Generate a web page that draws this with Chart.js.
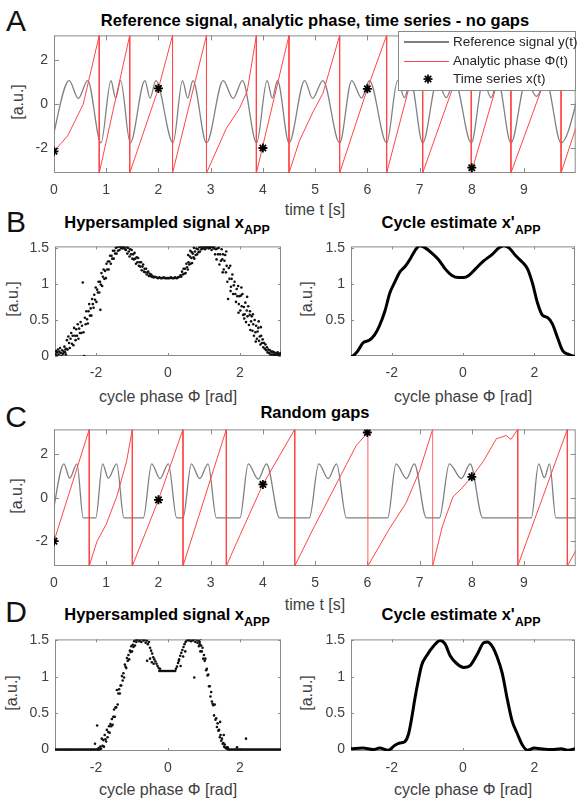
<!DOCTYPE html>
<html>
<head>
<meta charset="utf-8">
<script src="https://cdn.jsdelivr.net/npm/chart.js@4.4.1/dist/chart.umd.min.js"></script>
<style>
    body { margin: 0; width: 577px; height: 802px; background: #fff; position: relative; overflow: hidden;
           font-family: 'Liberation Sans', Arial, sans-serif; color: #262626; }
    canvas { position: absolute; }
    .txt { position: absolute; white-space: nowrap; line-height: 1; transform: translate(-50%, -50%); }
    .letter { font-size: 30px; color: #111; }
    .title { font-size: 16.5px; font-weight: bold; color: #000; }
    .title sub { font-size: 12.5px; line-height: 0; vertical-align: -6px; }
    .xlab { font-size: 16px; color: #404040; }
    .ylab { font-size: 16px; color: #404040; transform: translate(-50%, -50%) rotate(-90deg); }
    #legend { position: absolute; left: 398px; top: 31px; width: 178px; height: 60px; box-sizing: border-box;
              border: 1px solid #8a8a8a; background: #fff; font-size: 13.5px; color: #262626; }
    #legend .row { position: absolute; left: 0; height: 14px; width: 100%; }
    #legend .sample { position: absolute; left: 5px; width: 45px; top: 7px; }
    #legend .label { position: absolute; left: 54px; top: 0; line-height: 14px; white-space: nowrap; }
</style>
</head>
<body>

<div class="txt letter" style="left:16px;top:21px">A</div>
<div class="txt letter" style="left:16px;top:222px">B</div>
<div class="txt letter" style="left:16px;top:417px">C</div>
<div class="txt letter" style="left:16px;top:612px">D</div>

<div class="txt title" style="left:315px;top:20px">Reference signal, analytic phase, time series - no gaps</div>
<div class="txt title" style="left:167px;top:222px">Hypersampled signal x<sub>APP</sub></div>
<div class="txt title" style="left:461px;top:222px">Cycle estimate x'<sub>APP</sub></div>
<div class="txt title" style="left:315px;top:412px">Random gaps</div>
<div class="txt title" style="left:167px;top:614px">Hypersampled signal x<sub>APP</sub></div>
<div class="txt title" style="left:461px;top:614px">Cycle estimate x'<sub>APP</sub></div>

<div class="txt xlab" style="left:315px;top:210px">time t [s]</div>
<div class="txt xlab" style="left:168px;top:397px">cycle phase Φ [rad]</div>
<div class="txt xlab" style="left:463px;top:397px">cycle phase Φ [rad]</div>
<div class="txt xlab" style="left:315px;top:605px">time t [s]</div>
<div class="txt xlab" style="left:168px;top:790px">cycle phase Φ [rad]</div>
<div class="txt xlab" style="left:463px;top:790px">cycle phase Φ [rad]</div>

<div class="txt ylab" style="left:18px;top:102px">[a.u.]</div>
<div class="txt ylab" style="left:13px;top:299px">[a.u.]</div>
<div class="txt ylab" style="left:307px;top:299px">[a.u.]</div>
<div class="txt ylab" style="left:17px;top:496px">[a.u.]</div>
<div class="txt ylab" style="left:12px;top:693px">[a.u.]</div>
<div class="txt ylab" style="left:307px;top:693px">[a.u.]</div>

<script>
// ---- Panel A: no gaps ----
// reference signal y(t): minima, peaks and dips of each cycle
const refT = [-0.05, 0.29, 0.465, 0.645, 0.90, 1.09, 1.18, 1.275, 1.46, 1.74, 1.84, 1.95, 2.28,
    2.46, 2.56, 2.66, 2.92, 3.24, 3.43, 3.61, 3.88, 4.08, 4.18, 4.28, 4.50, 4.80, 4.95, 5.15, 5.47,
    5.70, 5.89, 6.04, 6.37, 6.58, 6.71, 6.83, 7.06, 7.34, 7.51, 7.67, 7.99, 8.22, 8.37, 8.50, 8.75,
    9.04, 9.24, 9.42, 9.71, 10.12];
const refY = [-1.77, 1.08, 0.27, 1.08, -1.77, 1.08, 0.28, 1.08, -1.77, 1.08, 0.28, 1.08, -1.77,
    1.08, 0.28, 1.08, -1.77, 1.08, 0.27, 1.08, -1.77, 1.08, 0.28, 1.08, -1.77, 1.08, 0.27, 1.08, -1.77,
    1.08, 0.28, 1.08, -1.77, 1.08, 0.30, 1.08, -1.77, 1.08, 0.30, 1.08, -1.77, 1.08, 0.30, 1.08, -1.77,
    1.08, 0.36, 1.08, -1.77, 1.08];
// analytic phase Phi(t), wraps drawn as vertical segments
const phaseT = [0, 0.26, 0.56, 0.866, 0.866, 1.45, 1.45, 2.0, 2.27, 2.27, 2.92, 2.92, 3.30, 3.55, 3.70,
    3.875, 3.875, 4.50, 4.50, 4.70, 4.96, 5.15, 5.47, 5.47, 6.0, 6.37, 6.37, 7.06, 7.06, 7.99, 7.99,
    8.75, 8.75, 9.71, 9.71, 9.99];
const phaseY = [-2.15, -1.45, 0.0, 3.1416, -3.1416, 3.1416, -3.1416, 0.72, 3.1416, -3.1416, 3.1416, -3.1416,
    -1.1, -0.2, 0.6, 3.1416, -3.1416, 3.1416, -3.1416, -1.67, -0.35, 0.5, 3.1416, -3.1416, 0.70, 3.1416,
    -3.1416, 3.1416, -3.1416, 3.1416, -3.1416, 3.1416, -3.1416, 3.1416, -3.1416, -1.1];
// time series x(t)
const sampleT = [0, 2, 4, 6, 8];
const sampleA = [-2.15, 0.72, -2.0, 0.70, -2.9];

// ---- Panel C: random gaps ----
const gapT = [-0.04, 0.19, 0.30, 0.44, 0.56, 0.80, 0.93, 1.04, 1.20, 1.34, 1.71, 1.87, 2.03, 2.19, 2.35,
    2.47, 2.63, 2.79, 2.95, 3.11, 3.56, 3.72, 3.91, 4.07, 4.32, 4.89, 5.07, 5.25, 5.41, 5.60,
    6.39, 6.55, 6.75, 6.90, 7.13, 7.38, 7.57, 7.80, 7.97, 8.21, 9.14, 9.28, 9.39, 9.49, 9.61, 9.99];
const gapY = [-0.93, 1.56, 0.90, 1.56, -0.93, -0.93, 1.56, 0.90, 1.56, -0.93, -0.93, 1.56, 0.88, 1.56, -0.93,
    -0.93, 1.56, 0.88, 1.56, -0.93, -0.93, 1.56, 0.85, 1.56, -0.93, -0.93, 1.56, 0.88, 1.56, -0.93,
    -0.93, 1.56, 0.88, 1.56, -0.93, -0.93, 1.56, 0.88, 1.56, -0.93, -0.93, 1.56, 0.92, 1.56, -0.93, -0.93];
const gapPhaseT = [0, 0.675, 0.675, 0.82, 1.0, 1.20, 1.39, 1.50, 1.50, 2.0, 2.47, 2.47, 3.30, 3.30, 3.56,
    4.0, 4.61, 4.61, 4.96, 5.28, 5.60, 5.79, 6.01, 6.01, 6.42, 6.74, 7.0, 7.25, 7.25, 7.44, 7.64,
    7.83, 8.0, 8.22, 8.47, 8.66, 8.75, 8.88, 8.88, 9.83, 9.83, 9.99];
const gapPhaseY = [-2.0, 3.1416, -3.1416, -2.03, -1.22, 0.04, 1.67, 3.1416, -3.1416, -0.1, 3.1416, -3.1416,
    3.1416, -3.1416, -1.73, 0.61, 3.1416, -3.1416, -1.44, 0.04, 1.53, 2.41, 3.0, -3.1416, -1.44, -0.25,
    1.23, 3.1416, -3.1416, -1.29, 0.04, 0.49, 0.96, 1.67, 2.71, 2.86, 2.68, 3.1416, -3.1416, 3.1416,
    -3.1416, -2.45];
const fadedWraps = [6.01, 7.25];
const gapSampleA = [-2.0, -0.1, 0.61, 3.0, 0.96];

// ---- Panel B: hypersampled points [phase, value] and cycle estimate ----
const hypB = [
    [-3.13,0.03],[-3.11,0.07],[-3.10,0.01],[-3.08,0.05],[-3.06,0.09],[-3.04,0.02],[-3.02,0.06],[-3.00,0.11],
    [-2.98,0.04],[-2.96,0.00],[-2.94,0.08],[-2.92,0.03],[-2.90,0.06],[-2.88,0.13],[-2.86,0.05],[-2.84,0.02],
    [-2.85,0.09],[-2.83,0.10],[-2.81,0.22],[-2.79,0.09],[-2.77,0.27],[-2.75,0.18],[-2.73,0.11],[-2.71,0.24],
    [-2.69,0.32],[-2.67,0.17],[-2.65,0.28],[-2.63,0.15],[-2.61,0.39],[-2.59,0.28],[-2.57,0.22],[-2.55,0.37],
    [-2.53,0.28],[-2.51,0.44],[-2.49,0.24],[-2.47,0.38],[-2.45,0.32],[-2.43,0.47],[-2.41,0.32],[-2.39,0.42],
    [-2.37,1.02],[-2.35,0.33],[-2.33,0.0],[-2.31,0.53],[-2.29,0.44],[-2.27,0.62],[-2.25,0.51],[-2.23,0.45],
    [-2.21,0.62],[-2.19,0.72],[-2.17,0.56],[-2.15,0.66],[-2.13,0.56],[-2.11,0.79],[-2.09,0.72],[-2.07,0.67],
    [-2.05,0.85],[-2.03,0.78],[-2.01,0.95],[-1.99,0.75],[-1.97,0.92],[-1.95,0.88],[-1.93,1.03],[-1.91,0.88],
    [-1.89,1.03],[-1.88,0.64],[-1.87,0.99],[-1.85,1.15],[-1.83,0.97],[-1.81,1.10],[-1.79,1.20],[-1.77,1.07],
    [-1.75,1.18],[-1.73,1.08],[-1.71,1.28],[-1.69,1.20],[-1.67,1.31],[-1.65,1.20],[-1.63,1.31],[-1.61,1.39],
    [-1.59,1.28],[-1.57,1.39],[-1.55,1.35],[-1.53,1.46],[-1.51,1.35],[-1.49,1.46],[-1.47,1.42],[-1.45,1.50],
    [-1.43,1.42],[-1.41,1.51],[-1.39,1.46],[-1.37,1.52],[-1.35,1.47],[-1.33,1.52],[-1.31,1.50],[-1.29,1.52],
    [-1.27,1.49],[-1.25,1.52],[-1.23,1.50],[-1.21,1.52],[-1.19,1.48],
    [-1.17,1.47],[-1.15,1.51],[-1.13,1.42],[-1.11,1.50],[-1.09,1.45],[-1.07,1.38],[-1.05,1.48],[-1.03,1.41],
    [-1.01,1.47],[-0.99,1.35],[-0.97,1.41],[-0.95,1.34],[-0.93,1.43],[-0.91,1.35],[-0.89,1.28],[-0.87,1.37],
    [-0.85,1.30],[-0.83,1.36],[-0.81,1.25],[-0.79,1.30],[-0.77,1.24],[-0.75,1.30],[-0.73,1.19],[-0.71,1.24],
    [-0.69,1.27],[-0.67,1.17],[-0.65,1.21],[-0.63,1.16],[-0.61,1.21],[-0.59,1.13],[-0.57,1.16],[-0.55,1.17],
    [-0.53,1.11],[-0.51,1.14],[-0.49,1.11],[-0.47,1.13],[-0.45,1.10],[-0.43,1.11],
    [-0.40,1.09],[-0.36,1.10],[-0.32,1.09],[-0.28,1.08],[-0.24,1.09],[-0.20,1.08],[-0.16,1.08],[-0.12,1.09],
    [-0.08,1.08],[-0.04,1.08],[0.0,1.08],[0.04,1.08],[0.08,1.09],[0.12,1.08],[0.16,1.08],[0.20,1.09],
    [0.24,1.08],[0.28,1.09],[0.32,1.10],
    [0.35,1.12],[0.37,1.10],[0.39,1.17],[0.41,1.13],[0.43,1.21],[0.45,1.14],[0.47,1.21],[0.49,1.15],
    [0.51,1.28],[0.53,1.23],[0.55,1.20],[0.57,1.30],[0.59,1.27],[0.61,1.38],[0.63,1.28],[0.65,1.36],
    [0.67,1.29],[0.69,1.42],[0.71,1.37],[0.73,1.35],[0.75,1.45],[0.77,1.40],[0.79,1.49],[0.81,1.41],
    [0.83,1.48],[0.85,1.44],[0.87,1.51],[0.89,1.45],[0.91,1.51],[0.93,1.48],[0.95,1.52],[0.97,1.49],
    [0.99,1.51],[1.01,1.52],[1.03,1.48],[1.05,1.52],[1.07,1.50],[1.09,1.52],[1.11,1.51],[1.13,1.49],
    [1.15,1.52],[1.17,1.50],[1.19,1.52],[1.21,1.47],[1.23,1.51],[1.25,1.52],[1.27,1.49],
    [0.56,1.40],[0.62,1.46],[0.66,1.44],[0.72,1.50],
    [1.29,1.51],[1.31,1.41],[1.33,1.48],[1.35,1.34],[1.37,1.49],[1.39,1.41],[1.41,1.50],[1.43,1.27],
    [1.45,1.41],[1.47,1.32],[1.49,1.48],[1.51,1.34],[1.53,1.41],[1.55,1.20],[1.57,1.32],[1.59,1.40],
    [1.61,1.16],[1.63,1.25],[1.65,1.03],[1.67,0.79],[1.69,1.22],[1.71,1.07],[1.73,1.25],[1.75,0.96],
    [1.77,1.07],[1.79,1.13],[1.81,0.86],[1.83,0.98],[1.85,1.03],[1.87,0.86],[1.89,0.75],[1.91,0.93],
    [1.93,0.83],[1.95,0.97],[1.97,0.72],[1.99,0.83],[2.01,0.63],[2.03,0.84],[2.05,0.69],[2.07,0.86],
    [2.09,0.57],[2.11,0.68],[2.13,0.58],[2.15,0.74],[2.17,0.47],[2.19,0.63],[2.21,0.55],[2.23,0.69],
    [2.25,0.43],[2.27,0.57],[2.29,0.36],[2.31,0.48],[2.33,0.55],[2.35,0.35],[2.37,0.44],[2.39,0.28],
    [2.41,0.50],[2.43,0.33],[2.45,0.42],[2.47,0.24],[2.49,0.34],[2.51,0.39],[2.53,0.21],[2.55,0.27],
    [2.57,0.16],[2.59,0.28],[2.61,0.18],[2.63,0.23],[2.65,0.12],[2.67,0.18],[2.69,0.10],[2.71,0.16],
    [2.73,0.08],[2.75,0.12],[2.77,0.05],[2.79,0.09],[2.81,0.04],[2.83,0.08],[2.85,0.02],[2.87,0.06],
    [2.89,0.02],[2.91,0.06],[2.93,0.02],[2.95,0.05],[2.97,0.01],[2.99,0.04],[3.01,0.0],[3.03,0.03],
    [3.05,0.05],[3.07,0.01],[3.09,0.03],[3.11,0.02],[3.13,0.04],
    [1.96,0.60],[2.04,0.95],[2.12,0.52],[2.20,0.82],[2.28,0.62],[2.36,0.58],[2.44,0.20],[2.52,0.48],
    [2.58,0.40],[1.52,1.16],[1.62,1.45],[1.74,0.90]
];
const cycBPhase = [-3.14, -3.09, -2.95, -2.81, -2.62, -2.48, -2.34, -2.19, -2.05, -1.91, -1.77, -1.63, -1.49,
    -1.35, -1.21, -1.06, -0.88, -0.69, -0.50, -0.31, -0.12, 0.02, 0.16, 0.35, 0.58, 0.82, 1.01, 1.15, 1.29,
    1.48, 1.67, 1.81, 1.95, 2.09, 2.23, 2.37, 2.51, 2.66, 2.80, 2.98, 3.14];
const cycBVal = [0.0, 0.01, 0.08, 0.19, 0.23, 0.30, 0.43, 0.63, 0.88, 1.03, 1.17, 1.24, 1.34,
    1.46, 1.53, 1.50, 1.43, 1.34, 1.21, 1.12, 1.09, 1.09, 1.12, 1.21, 1.32, 1.41, 1.50, 1.53, 1.50,
    1.39, 1.30, 1.21, 1.01, 0.74, 0.57, 0.54, 0.45, 0.25, 0.08, 0.03, 0.0];

// ---- Panel D: hypersampled points and cycle estimate (gapped) ----
// phases of the points lying on the zero floor
const hypDFloor = [-3.14, -3.10, -3.06, -3.02, -2.98, -2.94, -2.90, -2.86, -2.82, -2.78, -2.74, -2.70, -2.66,
    -2.62, -2.58, -2.54, -2.50, -2.46, -2.42, -2.38, -2.34, -2.30, -2.26, -2.22, -2.18, -2.14, -2.10, -2.06,
    -2.02, -1.98, -1.94, -1.90, 1.70, 1.74, 1.78, 1.82, 1.86, 1.90, 1.94, 1.98, 2.02, 2.06, 2.10, 2.14, 2.18,
    2.22, 2.26, 2.30, 2.34, 2.38, 2.42, 2.46, 2.50, 2.54, 2.58, 2.62, 2.66, 2.70, 2.74, 2.78, 2.82, 2.86,
    2.90, 2.94, 2.98, 3.02, 3.06, 3.10, 3.14];
const hypD = [
    [-1.97,0.33],[-2.03,0.08],[-1.93,0.02],
    [-1.88,0.04],[-1.86,0.01],[-1.84,0.15],[-1.82,0.05],[-1.80,0.13],[-1.78,0.04],[-1.76,0.20],[-1.74,0.14],
    [-1.72,0.11],[-1.70,0.27],[-1.68,0.17],[-1.66,0.24],[-1.64,0.32],[-1.62,0.23],[-1.60,0.35],[-1.58,0.32],
    [-1.56,0.42],[-1.54,0.34],[-1.52,0.45],[-1.50,0.55],[-1.48,0.45],[-1.46,0.58],[-1.44,0.58],[-1.42,0.82],
    [-1.40,0.62],[-1.38,0.77],[-1.36,0.83],[-1.34,0.77],[-1.32,0.88],[-1.30,0.88],[-1.28,1.01],[-1.26,0.95],
    [-1.24,1.05],[-1.22,0.99],[-1.20,1.17],[-1.18,1.14],[-1.16,1.12],[-1.14,1.26],[-1.12,1.22],[-1.10,1.30],
    [-1.08,1.24],[-1.06,1.36],[-1.04,1.34],[-1.02,1.42],[-1.00,1.35],[-0.98,1.44],[-0.96,1.41],[-0.94,1.49],
    [-0.92,1.43],[-0.90,1.51],[-0.88,1.48],[-0.86,1.51],
    [-0.83,1.52],[-0.80,1.49],[-0.77,1.51],[-0.74,1.48],[-0.71,1.52],[-0.68,1.50],[-0.65,1.51],[-0.62,1.47],
    [-0.59,1.50],[-0.56,1.45],[-0.53,1.48],
    [-0.50,1.40],[-0.47,1.36],[-0.44,1.32],[-0.41,1.27],[-0.38,1.24],[-0.35,1.21],[-0.32,1.18],[-0.29,1.15],
    [-0.26,1.12],[-0.50,1.25],[-0.58,1.22],[-0.45,1.20],[-0.40,1.18],
    [-0.24,1.08],[-0.20,1.08],[-0.16,1.08],[-0.12,1.08],[-0.08,1.08],[-0.04,1.08],[0.0,1.08],[0.04,1.08],
    [0.08,1.08],[0.12,1.08],[0.16,1.08],[0.20,1.08],[-0.22,1.11],[0.22,1.11],
    [0.25,1.14],[0.28,1.19],[0.31,1.24],[0.34,1.29],[0.37,1.33],[0.40,1.37],[0.43,1.41],[0.46,1.45],
    [0.30,1.22],[0.35,1.15],[0.42,1.28],[0.48,1.35],
    [0.49,1.48],[0.52,1.50],[0.55,1.52],[0.58,1.50],[0.61,1.52],[0.64,1.49],[0.67,1.51],[0.70,1.50],
    [0.73,1.52],[0.76,1.48],[0.79,1.51],[0.82,1.47],[0.85,1.50],[0.88,1.45],[0.91,1.52],[0.73,0.99],
    [0.86,1.42],[0.88,1.48],[0.90,1.35],[0.92,1.43],[0.94,1.35],[0.96,1.40],[0.98,1.25],[1.00,1.30],
    [1.02,1.22],[1.04,1.25],[1.06,1.09],[1.08,1.11],[1.10,1.02],[1.12,1.03],[1.14,0.87],[1.16,0.87],
    [1.18,0.73],[1.20,0.79],[1.22,0.66],[1.24,0.63],[1.26,0.61],[1.28,0.47],[1.30,0.62],[1.32,0.41],
    [1.34,0.43],[1.36,0.31],[1.38,0.36],[1.40,0.26],[1.42,0.27],[1.44,0.17],[1.46,0.20],[1.48,0.12],
    [1.50,0.15],[1.52,0.08],[1.54,0.09],[1.56,0.04],[1.58,0.07],[1.60,0.02],[1.62,0.03],[1.64,0.01],
    [1.66,0.03],[1.68,0.0],[1.45,0.38],[1.55,0.20],[1.92,0.03],[2.17,0.15]
];
const cycDPhase = [-3.14, -2.81, -2.52, -2.34, -2.10, -1.91, -1.77, -1.63, -1.53, -1.44, -1.35, -1.25, -1.16,
    -1.02, -0.83, -0.64, -0.50, -0.36, -0.17, 0.02, 0.21, 0.40, 0.58, 0.68, 0.82, 0.96, 1.10, 1.24, 1.38,
    1.53, 1.67, 1.81, 2.00, 2.18, 2.47, 2.75, 2.94, 3.14];
const cycDVal = [0.01, 0.02, 0.0, 0.02, -0.01, 0.06, 0.09, 0.11, 0.21, 0.43, 0.70, 0.96, 1.16,
    1.29, 1.42, 1.50, 1.45, 1.29, 1.18, 1.13, 1.16, 1.31, 1.47, 1.48, 1.42, 1.27, 1.05, 0.70, 0.39,
    0.21, 0.06, -0.01, 0.02, 0.01, 0.0, 0.01, -0.01, 0.01];

// ---------------------------------------------------------------
const AXIS_GRAY = '#8a8a8a';
const GRAY = '#808080';
const RED = 'rgb(255,70,70)';

Chart.defaults.font.family = "'Liberation Sans', Arial, sans-serif";
Chart.defaults.font.size = 14;
Chart.defaults.color = '#404040';
Chart.defaults.animation = false;
Chart.defaults.events = [];
Chart.defaults.plugins.legend.display = false;
Chart.defaults.plugins.tooltip.enabled = false;

// MATLAB-style box with inward tick marks on all four sides
const boxPlugin = {
    id: 'box',
    beforeDatasetsDraw(chart, args, opts) {
        const { ctx, chartArea: a, scales } = chart;
        const len = opts.len || 4;
        ctx.save();
        ctx.strokeStyle = AXIS_GRAY;
        ctx.lineWidth = 1;
        ctx.strokeRect(a.left + 0.5, a.top + 0.5, a.width - 1, a.height - 1);
        ctx.beginPath();
        scales.x.ticks.forEach(t => {
            const px = Math.round(scales.x.getPixelForValue(t.value)) + 0.5;
            ctx.moveTo(px, a.bottom); ctx.lineTo(px, a.bottom - len);
            ctx.moveTo(px, a.top); ctx.lineTo(px, a.top + len);
        });
        scales.y.ticks.forEach(t => {
            const py = Math.round(scales.y.getPixelForValue(t.value)) + 0.5;
            ctx.moveTo(a.left, py); ctx.lineTo(a.left + len, py);
            ctx.moveTo(a.right, py); ctx.lineTo(a.right - len, py);
        });
        ctx.stroke();
        ctx.restore();
    }
};
Chart.register(boxPlugin);

// plot areas in page pixels
const AREAS = {
    a:  { l: 54,  t: 31,  r: 576, b: 173 },
    bl: { l: 55,  t: 242, r: 281, b: 356 },
    br: { l: 351, t: 242, r: 575, b: 356 },
    c:  { l: 54,  t: 425, r: 576, b: 566 },
    dl: { l: 55,  t: 635, r: 281, b: 751 },
    dr: { l: 351, t: 635, r: 575, b: 751 }
};

function makeCanvas(area) {
    const cv = document.createElement('canvas');
    cv.width = area.r - area.l + 56;
    cv.height = area.b - area.t + 40;
    cv.style.left = (area.l - 50) + 'px';
    cv.style.top = (area.t - 10) + 'px';
    document.body.appendChild(cv);
    return cv;
}

const plainNumber = v => String(+Number(v).toFixed(2));

function scalesFor(xMin, xMax, xStep, yMin, yMax, yStep) {
    return {
        x: {
            type: 'linear', min: xMin, max: xMax,
            afterFit: s => { s.height = 30; },
            grid: { display: false, drawTicks: false }, border: { display: false },
            ticks: { stepSize: xStep, includeBounds: false, padding: 9, maxRotation: 0, autoSkip: false,
                     callback: plainNumber }
        },
        y: {
            type: 'linear', min: yMin, max: yMax,
            afterFit: s => { s.width = 50; },
            grid: { display: false, drawTicks: false }, border: { display: false },
            ticks: { stepSize: yStep, includeBounds: false, padding: 6, callback: plainNumber }
        }
    };
}

const commonOpts = (scales, len) => ({
    responsive: false,
    layout: { padding: { top: 10, right: 6, left: 0, bottom: 0 } },
    scales,
    plugins: { box: { len } }
});

const toXY = (xs, ys) => xs.map((x, i) => ({ x, y: ys[i] }));

function timePanel(area, sigT, sigY, phT, phY, sampA, faded) {
    return new Chart(makeCanvas(area), {
        type: 'line',
        data: {
            datasets: [
                {
                    data: toXY(sampleT, sampA), showLine: false, order: 1,
                    pointStyle: 'star', pointRadius: 4.5, borderColor: '#000', borderWidth: 1.8
                },
                {
                    data: toXY(phT, phY), order: 2, borderColor: RED, borderWidth: 1,
                    pointRadius: 0, tension: 0,
                    segment: {
                        borderColor: ctx => (ctx.p0.parsed.x === ctx.p1.parsed.x &&
                            faded.includes(ctx.p0.parsed.x)) ? 'rgba(255,80,80,0.4)' : undefined
                    }
                },
                {
                    data: toXY(sigT, sigY), order: 3, borderColor: GRAY, borderWidth: 1.3,
                    pointRadius: 0, cubicInterpolationMode: 'monotone'
                }
            ]
        },
        options: commonOpts(scalesFor(0, 9.99, 1, -3.1416, 3.1416, 2), 5)
    });
}

function scatterPanel(area, pts, yMin, yMax) {
    return new Chart(makeCanvas(area), {
        type: 'scatter',
        data: {
            datasets: [{
                data: pts, pointRadius: 1.3, borderWidth: 0,
                backgroundColor: '#111', borderColor: '#111'
            }]
        },
        options: commonOpts(scalesFor(-3.1416, 3.1416, 2, yMin, yMax, 0.5), 3)
    });
}

function cyclePanel(area, xs, ys, yMin, yMax) {
    return new Chart(makeCanvas(area), {
        type: 'line',
        data: {
            datasets: [{
                data: toXY(xs, ys), borderColor: '#000', borderWidth: 3,
                pointRadius: 0, cubicInterpolationMode: 'monotone'
            }]
        },
        options: commonOpts(scalesFor(-3.1416, 3.1416, 2, yMin, yMax, 0.5), 3)
    });
}

timePanel(AREAS.a, refT, refY, phaseT, phaseY, sampleA, []);
scatterPanel(AREAS.bl, hypB.map(p => ({ x: p[0], y: p[1] })), 0, 1.52);
cyclePanel(AREAS.br, cycBPhase, cycBVal, 0.01, 1.52);
timePanel(AREAS.c, gapT, gapY, gapPhaseT, gapPhaseY, gapSampleA, fadedWraps);
scatterPanel(AREAS.dl, hypDFloor.map(x => ({ x, y: 0 })).concat(hypD.map(p => ({ x: p[0], y: p[1] }))), -0.02, 1.515);
cyclePanel(AREAS.dr, cycDPhase, cycDVal, -0.02, 1.515);
</script>

<div id="legend">
    <div class="row" style="top:3px">
        <div class="sample" style="border-top:2px solid #808080;top:6px"></div>
        <div class="label">Reference signal y(t)</div>
    </div>
    <div class="row" style="top:22px">
        <div class="sample" style="border-top:1px solid rgb(255,70,70)"></div>
        <div class="label">Analytic phase Φ(t)</div>
    </div>
    <div class="row" style="top:40px">
        <svg style="position:absolute;left:23px;top:1px" width="12" height="12" viewBox="-6 -6 12 12">
            <g stroke="#000" stroke-width="1.7">
                <line x1="-4.5" y1="0" x2="4.5" y2="0"/><line x1="0" y1="-4.5" x2="0" y2="4.5"/>
                <line x1="-3.2" y1="-3.2" x2="3.2" y2="3.2"/><line x1="-3.2" y1="3.2" x2="3.2" y2="-3.2"/>
            </g>
        </svg>
        <div class="label">Time series x(t)</div>
    </div>
</div>

</body>
</html>
